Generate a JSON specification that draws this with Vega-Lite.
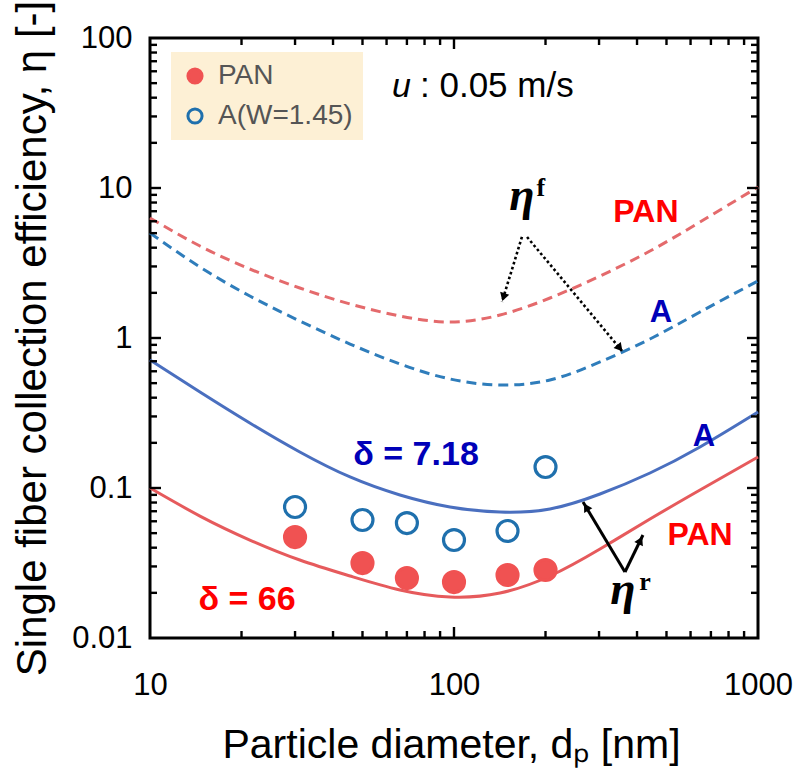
{
  "$schema": "https://vega.github.io/schema/vega-lite/v6.json",
  "width": 608,
  "height": 600,
  "autosize": "none",
  "padding": {"left": 150, "top": 38, "right": 42, "bottom": 135},
  "background": "white",
  "config": {
    "view": {"stroke": "black", "strokeWidth": 3},
    "axis": {"domain": false, "grid": false, "ticks": false, "labelFont": "Liberation Sans", "labelFontSize": 31, "labelColor": "black", "titleFont": "Liberation Sans", "titleFontWeight": "normal", "titleColor": "black"}
  },
  "datasets": {
    "curves": [
      {"d": 10, "eta": 6.31, "series": "PAN_f"},
      {"d": 14.6, "eta": 4.105, "series": "PAN_f"},
      {"d": 21.3, "eta": 2.884, "series": "PAN_f"},
      {"d": 31.1, "eta": 2.154, "series": "PAN_f"},
      {"d": 45.5, "eta": 1.685, "series": "PAN_f"},
      {"d": 66.4, "eta": 1.402, "series": "PAN_f"},
      {"d": 97, "eta": 1.278, "series": "PAN_f"},
      {"d": 141.7, "eta": 1.423, "series": "PAN_f"},
      {"d": 206.9, "eta": 1.848, "series": "PAN_f"},
      {"d": 302.2, "eta": 2.59, "series": "PAN_f"},
      {"d": 441.3, "eta": 3.80, "series": "PAN_f"},
      {"d": 644.5, "eta": 5.93, "series": "PAN_f"},
      {"d": 1000, "eta": 10.15, "series": "PAN_f"},
      {"d": 10, "eta": 5.01, "series": "A_f"},
      {"d": 14.6, "eta": 2.974, "series": "A_f"},
      {"d": 21.3, "eta": 1.905, "series": "A_f"},
      {"d": 31.1, "eta": 1.298, "series": "A_f"},
      {"d": 45.5, "eta": 0.912, "series": "A_f"},
      {"d": 66.4, "eta": 0.671, "series": "A_f"},
      {"d": 97, "eta": 0.533, "series": "A_f"},
      {"d": 141.7, "eta": 0.486, "series": "A_f"},
      {"d": 206.9, "eta": 0.525, "series": "A_f"},
      {"d": 302.2, "eta": 0.692, "series": "A_f"},
      {"d": 441.3, "eta": 0.985, "series": "A_f"},
      {"d": 644.5, "eta": 1.49, "series": "A_f"},
      {"d": 1000, "eta": 2.40, "series": "A_f"},
      {"d": 10, "eta": 0.1, "series": "PAN_r"},
      {"d": 14.6, "eta": 0.065, "series": "PAN_r"},
      {"d": 21.3, "eta": 0.045, "series": "PAN_r"},
      {"d": 31.1, "eta": 0.0331, "series": "PAN_r"},
      {"d": 45.5, "eta": 0.0259, "series": "PAN_r"},
      {"d": 66.4, "eta": 0.0209, "series": "PAN_r"},
      {"d": 97, "eta": 0.01877, "series": "PAN_r"},
      {"d": 141.7, "eta": 0.01995, "series": "PAN_r"},
      {"d": 206.9, "eta": 0.0259, "series": "PAN_r"},
      {"d": 302.2, "eta": 0.0392, "series": "PAN_r"},
      {"d": 441.3, "eta": 0.0621, "series": "PAN_r"},
      {"d": 644.5, "eta": 0.097, "series": "PAN_r"},
      {"d": 1000, "eta": 0.161, "series": "PAN_r"},
      {"d": 10, "eta": 0.713, "series": "A_r"},
      {"d": 14.6, "eta": 0.4365, "series": "A_r"},
      {"d": 21.3, "eta": 0.2712, "series": "A_r"},
      {"d": 31.1, "eta": 0.1738, "series": "A_r"},
      {"d": 45.5, "eta": 0.1184, "series": "A_r"},
      {"d": 66.4, "eta": 0.0898, "series": "A_r"},
      {"d": 97, "eta": 0.0747, "series": "A_r"},
      {"d": 141.7, "eta": 0.0692, "series": "A_r"},
      {"d": 206.9, "eta": 0.0725, "series": "A_r"},
      {"d": 302.2, "eta": 0.0912, "series": "A_r"},
      {"d": 441.3, "eta": 0.1259, "series": "A_r"},
      {"d": 644.5, "eta": 0.1877, "series": "A_r"},
      {"d": 1000, "eta": 0.321, "series": "A_r"}
    ],
    "points": [
      {"d": 30, "eta": 0.0471, "sample": "PAN"},
      {"d": 50, "eta": 0.0316, "sample": "PAN"},
      {"d": 70, "eta": 0.0251, "sample": "PAN"},
      {"d": 100, "eta": 0.0236, "sample": "PAN"},
      {"d": 150, "eta": 0.0263, "sample": "PAN"},
      {"d": 200, "eta": 0.0284, "sample": "PAN"},
      {"d": 30, "eta": 0.0747, "sample": "A(W=1.45)"},
      {"d": 50, "eta": 0.0612, "sample": "A(W=1.45)"},
      {"d": 70, "eta": 0.0584, "sample": "A(W=1.45)"},
      {"d": 100, "eta": 0.045, "sample": "A(W=1.45)"},
      {"d": 150, "eta": 0.0517, "sample": "A(W=1.45)"},
      {"d": 200, "eta": 0.138, "sample": "A(W=1.45)"}
    ],
    "arrows": [
      {"d1": 167.3, "e1": 4.714, "d2": 143.8, "e2": 1.738, "style": "dotted"},
      {"d1": 173.9, "e1": 4.714, "d2": 359.6, "e2": 0.8065, "style": "dotted"},
      {"d1": 365.1, "e1": 0.02754, "d2": 265.7, "e2": 0.0807, "style": "solid"},
      {"d1": 365.1, "e1": 0.02754, "d2": 418.4, "e2": 0.0486, "style": "solid"}
    ],
    "heads": [
      {"d": 145.5, "eta": 1.871, "ang": 197},
      {"d": 351.1, "eta": 0.855, "ang": 140},
      {"d": 272, "eta": 0.0746, "ang": 329},
      {"d": 410.4, "eta": 0.0447, "ang": 26}
    ],
    "xticks": [
      {"v": 100, "m": "major"},
      {"v": 20, "m": "minor"}, {"v": 30, "m": "minor"}, {"v": 40, "m": "minor"}, {"v": 50, "m": "minor"},
      {"v": 60, "m": "minor"}, {"v": 70, "m": "minor"}, {"v": 80, "m": "minor"}, {"v": 90, "m": "minor"},
      {"v": 200, "m": "minor"}, {"v": 300, "m": "minor"}, {"v": 400, "m": "minor"}, {"v": 500, "m": "minor"},
      {"v": 600, "m": "minor"}, {"v": 700, "m": "minor"}, {"v": 800, "m": "minor"}, {"v": 900, "m": "minor"}
    ],
    "yticks": [
      {"v": 0.1, "m": "major"}, {"v": 1, "m": "major"}, {"v": 10, "m": "major"},
      {"v": 0.02, "m": "minor"}, {"v": 0.03, "m": "minor"}, {"v": 0.04, "m": "minor"}, {"v": 0.05, "m": "minor"},
      {"v": 0.06, "m": "minor"}, {"v": 0.07, "m": "minor"}, {"v": 0.08, "m": "minor"}, {"v": 0.09, "m": "minor"},
      {"v": 0.2, "m": "minor"}, {"v": 0.3, "m": "minor"}, {"v": 0.4, "m": "minor"}, {"v": 0.5, "m": "minor"},
      {"v": 0.6, "m": "minor"}, {"v": 0.7, "m": "minor"}, {"v": 0.8, "m": "minor"}, {"v": 0.9, "m": "minor"},
      {"v": 2, "m": "minor"}, {"v": 3, "m": "minor"}, {"v": 4, "m": "minor"}, {"v": 5, "m": "minor"},
      {"v": 6, "m": "minor"}, {"v": 7, "m": "minor"}, {"v": 8, "m": "minor"}, {"v": 9, "m": "minor"},
      {"v": 20, "m": "minor"}, {"v": 30, "m": "minor"}, {"v": 40, "m": "minor"}, {"v": 50, "m": "minor"},
      {"v": 60, "m": "minor"}, {"v": 70, "m": "minor"}, {"v": 80, "m": "minor"}, {"v": 90, "m": "minor"}
    ],
    "notes": [
      {"d": 167.3, "eta": 7.135, "text": "η", "kind": "eta"},
      {"d": 193.2, "eta": 8.844, "text": "f", "kind": "sup"},
      {"d": 359.6, "eta": 0.01685, "text": "η", "kind": "eta"},
      {"d": 425, "eta": 0.0209, "text": "r", "kind": "sup"},
      {"d": 428, "eta": 5.935, "text": "PAN", "kind": "red"},
      {"d": 644.6, "eta": 0.0417, "text": "PAN", "kind": "red"},
      {"d": 479.8, "eta": 1.278, "text": "A", "kind": "blue"},
      {"d": 664.3, "eta": 0.1905, "text": "A", "kind": "blue"},
      {"d": 75, "eta": 0.1423, "text": "δ = 7.18", "kind": "blueDelta"},
      {"d": 20.85, "eta": 0.01537, "text": "δ = 66", "kind": "redDelta"},
      {"d": 62.5, "eta": 40.4, "text": "u", "kind": "u"},
      {"d": 77.3, "eta": 40.4, "text": ": 0.05 m/s", "kind": "uval"}
    ]
  },
  "resolve": {"axis": {"x": "independent", "y": "independent"}},
  "layer": [
    {
      "data": {"name": "curves"},
      "transform": [{"filter": "datum.series == 'PAN_f' || datum.series == 'A_f'"}],
      "mark": {"type": "line", "strokeWidth": 3, "interpolate": "natural", "strokeDash": [10, 6]},
      "encoding": {
        "x": {"field": "d", "type": "quantitative", "scale": {"type": "log", "domain": [10, 1000], "nice": false},
          "axis": {"orient": "bottom", "values": [10, 100, 1000], "format": "~g",
            "labelPadding": 32, "labelOverlap": false, "labelFlush": false, "labelBound": false,
            "title": "Particle diameter, dₚ [nm]", "titleFontSize": 41, "titleX": 301, "titleY": 119, "titleBaseline": "alphabetic", "titleAlign": "center"}},
        "y": {"field": "eta", "type": "quantitative", "scale": {"type": "log", "domain": [0.01, 100], "nice": false},
          "axis": {"orient": "left", "values": [0.01, 0.1, 1, 10, 100], "format": "~g",
            "labelPadding": 18, "labelOverlap": false, "labelFlush": false, "labelBound": false,
            "title": "Single fiber collection efficiency, η [-]", "titleFontSize": 42, "titleX": -105, "titleY": 300, "titleAngle": 270, "titleBaseline": "alphabetic", "titleAlign": "center"}},
        "color": {"field": "series", "type": "nominal", "scale": {"domain": ["PAN_f", "A_f", "PAN_r", "A_r"], "range": ["#e46a6c", "#2f7dbb", "#e65a5c", "#4a6fbf"]}, "legend": null}
      }
    },
    {
      "data": {"name": "curves"},
      "transform": [{"filter": "datum.series == 'PAN_r' || datum.series == 'A_r'"}],
      "mark": {"type": "line", "strokeWidth": 3, "interpolate": "natural"},
      "encoding": {
        "x": {"field": "d", "type": "quantitative", "scale": {"type": "log", "domain": [10, 1000], "nice": false}, "axis": null},
        "y": {"field": "eta", "type": "quantitative", "scale": {"type": "log", "domain": [0.01, 100], "nice": false}, "axis": null},
        "color": {"field": "series", "type": "nominal", "scale": {"domain": ["PAN_f", "A_f", "PAN_r", "A_r"], "range": ["#e46a6c", "#2f7dbb", "#e65a5c", "#4a6fbf"]}, "legend": null}
      }
    },
    {
      "data": {"name": "xticks"},
      "transform": [{"filter": "datum.m == 'major'"}],
      "mark": {"type": "tick", "orient": "vertical", "size": 11, "thickness": 2.4, "color": "black", "opacity": 1, "yOffset": 294.5},
      "encoding": {
        "x": {"field": "v", "type": "quantitative", "scale": {"type": "log", "domain": [10, 1000], "nice": false}, "axis": null}
      }
    },
    {
      "data": {"name": "xticks"},
      "transform": [{"filter": "datum.m == 'minor'"}],
      "mark": {"type": "tick", "orient": "vertical", "size": 7, "thickness": 2.4, "color": "black", "opacity": 1, "yOffset": 296.5},
      "encoding": {
        "x": {"field": "v", "type": "quantitative", "scale": {"type": "log", "domain": [10, 1000], "nice": false}, "axis": null}
      }
    },
    {
      "data": {"name": "xticks"},
      "transform": [{"filter": "datum.m == 'major'"}],
      "mark": {"type": "tick", "orient": "vertical", "size": 11, "thickness": 2.4, "color": "black", "opacity": 1, "yOffset": -294.5},
      "encoding": {
        "x": {"field": "v", "type": "quantitative", "scale": {"type": "log", "domain": [10, 1000], "nice": false}, "axis": null}
      }
    },
    {
      "data": {"name": "xticks"},
      "transform": [{"filter": "datum.m == 'minor'"}],
      "mark": {"type": "tick", "orient": "vertical", "size": 7, "thickness": 2.4, "color": "black", "opacity": 1, "yOffset": -296.5},
      "encoding": {
        "x": {"field": "v", "type": "quantitative", "scale": {"type": "log", "domain": [10, 1000], "nice": false}, "axis": null}
      }
    },
    {
      "data": {"name": "yticks"},
      "transform": [{"filter": "datum.m == 'major'"}],
      "mark": {"type": "tick", "orient": "horizontal", "size": 11, "thickness": 2.4, "color": "black", "opacity": 1, "xOffset": -298.5},
      "encoding": {
        "y": {"field": "v", "type": "quantitative", "scale": {"type": "log", "domain": [0.01, 100], "nice": false}, "axis": null}
      }
    },
    {
      "data": {"name": "yticks"},
      "transform": [{"filter": "datum.m == 'minor'"}],
      "mark": {"type": "tick", "orient": "horizontal", "size": 7, "thickness": 2.4, "color": "black", "opacity": 1, "xOffset": -300.5},
      "encoding": {
        "y": {"field": "v", "type": "quantitative", "scale": {"type": "log", "domain": [0.01, 100], "nice": false}, "axis": null}
      }
    },
    {
      "data": {"name": "yticks"},
      "transform": [{"filter": "datum.m == 'major'"}],
      "mark": {"type": "tick", "orient": "horizontal", "size": 11, "thickness": 2.4, "color": "black", "opacity": 1, "xOffset": 298.5},
      "encoding": {
        "y": {"field": "v", "type": "quantitative", "scale": {"type": "log", "domain": [0.01, 100], "nice": false}, "axis": null}
      }
    },
    {
      "data": {"name": "yticks"},
      "transform": [{"filter": "datum.m == 'minor'"}],
      "mark": {"type": "tick", "orient": "horizontal", "size": 7, "thickness": 2.4, "color": "black", "opacity": 1, "xOffset": 300.5},
      "encoding": {
        "y": {"field": "v", "type": "quantitative", "scale": {"type": "log", "domain": [0.01, 100], "nice": false}, "axis": null}
      }
    },
    {
      "data": {"name": "points"},
      "mark": {"type": "point", "shape": "circle", "filled": true, "strokeWidth": 3.2, "opacity": 1, "size": 440},
      "encoding": {
        "x": {"field": "d", "type": "quantitative", "scale": {"type": "log", "domain": [10, 1000], "nice": false}, "axis": null},
        "y": {"field": "eta", "type": "quantitative", "scale": {"type": "log", "domain": [0.01, 100], "nice": false}, "axis": null},
        "fill": {"field": "sample", "type": "nominal", "scale": {"domain": ["PAN", "A(W=1.45)"], "range": ["#f05252", "transparent"]},
          "legend": {"orient": "none", "legendX": 21, "legendY": 14, "title": null, "fillColor": "#fdf0d5", "padding": 10, "labelFont": "Liberation Sans", "labelFontSize": 28, "labelColor": "#555555", "symbolSize": 200, "symbolStrokeWidth": 3, "rowPadding": 12, "labelOffset": 9}},
        "stroke": {"field": "sample", "type": "nominal", "scale": {"domain": ["PAN", "A(W=1.45)"], "range": ["#f05252", "#1f70ad"]},
          "legend": {"orient": "none", "legendX": 21, "legendY": 14, "title": null, "fillColor": "#fdf0d5", "padding": 10, "labelFont": "Liberation Sans", "labelFontSize": 28, "labelColor": "#555555", "symbolSize": 200, "symbolStrokeWidth": 3, "rowPadding": 12, "labelOffset": 9}}
      }
    },
    {
      "data": {"name": "arrows"},
      "transform": [{"filter": "datum.style == 'dotted'"}],
      "mark": {"type": "rule", "color": "black", "strokeWidth": 2.6, "strokeDash": [2.6, 2.6]},
      "encoding": {
        "x": {"field": "d1", "type": "quantitative", "scale": {"type": "log", "domain": [10, 1000], "nice": false}, "axis": null},
        "y": {"field": "e1", "type": "quantitative", "scale": {"type": "log", "domain": [0.01, 100], "nice": false}, "axis": null},
        "x2": {"field": "d2"},
        "y2": {"field": "e2"}
      }
    },
    {
      "data": {"name": "arrows"},
      "transform": [{"filter": "datum.style == 'solid'"}],
      "mark": {"type": "rule", "color": "black", "strokeWidth": 3},
      "encoding": {
        "x": {"field": "d1", "type": "quantitative", "scale": {"type": "log", "domain": [10, 1000], "nice": false}, "axis": null},
        "y": {"field": "e1", "type": "quantitative", "scale": {"type": "log", "domain": [0.01, 100], "nice": false}, "axis": null},
        "x2": {"field": "d2"},
        "y2": {"field": "e2"}
      }
    },
    {
      "data": {"name": "heads"},
      "mark": {"type": "point", "shape": "triangle-up", "filled": true, "color": "black", "opacity": 1, "size": 90},
      "encoding": {
        "x": {"field": "d", "type": "quantitative", "scale": {"type": "log", "domain": [10, 1000], "nice": false}, "axis": null},
        "y": {"field": "eta", "type": "quantitative", "scale": {"type": "log", "domain": [0.01, 100], "nice": false}, "axis": null},
        "angle": {"field": "ang", "type": "quantitative", "scale": null}
      }
    },
    {
      "data": {"name": "notes"},
      "transform": [{"filter": "datum.kind == 'eta'"}],
      "mark": {"type": "text", "font": "Liberation Serif", "fontSize": 46, "fontWeight": "bold", "fontStyle": "italic", "color": "black", "align": "center", "baseline": "alphabetic"},
      "encoding": {
        "x": {"field": "d", "type": "quantitative", "scale": {"type": "log", "domain": [10, 1000], "nice": false}, "axis": null},
        "y": {"field": "eta", "type": "quantitative", "scale": {"type": "log", "domain": [0.01, 100], "nice": false}, "axis": null},
        "text": {"field": "text"}
      }
    },
    {
      "data": {"name": "notes"},
      "transform": [{"filter": "datum.kind == 'sup'"}],
      "mark": {"type": "text", "font": "Liberation Serif", "fontSize": 26, "fontWeight": "bold", "color": "black", "align": "center", "baseline": "alphabetic"},
      "encoding": {
        "x": {"field": "d", "type": "quantitative", "scale": {"type": "log", "domain": [10, 1000], "nice": false}, "axis": null},
        "y": {"field": "eta", "type": "quantitative", "scale": {"type": "log", "domain": [0.01, 100], "nice": false}, "axis": null},
        "text": {"field": "text"}
      }
    },
    {
      "data": {"name": "notes"},
      "transform": [{"filter": "datum.kind == 'red'"}],
      "mark": {"type": "text", "font": "Liberation Sans", "fontSize": 32, "fontWeight": "bold", "color": "#ff0000", "align": "center", "baseline": "alphabetic"},
      "encoding": {
        "x": {"field": "d", "type": "quantitative", "scale": {"type": "log", "domain": [10, 1000], "nice": false}, "axis": null},
        "y": {"field": "eta", "type": "quantitative", "scale": {"type": "log", "domain": [0.01, 100], "nice": false}, "axis": null},
        "text": {"field": "text"}
      }
    },
    {
      "data": {"name": "notes"},
      "transform": [{"filter": "datum.kind == 'blue'"}],
      "mark": {"type": "text", "font": "Liberation Sans", "fontSize": 31, "fontWeight": "bold", "color": "#0000b8", "align": "center", "baseline": "alphabetic"},
      "encoding": {
        "x": {"field": "d", "type": "quantitative", "scale": {"type": "log", "domain": [10, 1000], "nice": false}, "axis": null},
        "y": {"field": "eta", "type": "quantitative", "scale": {"type": "log", "domain": [0.01, 100], "nice": false}, "axis": null},
        "text": {"field": "text"}
      }
    },
    {
      "data": {"name": "notes"},
      "transform": [{"filter": "datum.kind == 'redDelta'"}],
      "mark": {"type": "text", "font": "Liberation Sans", "fontSize": 34, "fontWeight": "bold", "color": "#ff0000", "align": "center", "baseline": "alphabetic"},
      "encoding": {
        "x": {"field": "d", "type": "quantitative", "scale": {"type": "log", "domain": [10, 1000], "nice": false}, "axis": null},
        "y": {"field": "eta", "type": "quantitative", "scale": {"type": "log", "domain": [0.01, 100], "nice": false}, "axis": null},
        "text": {"field": "text"}
      }
    },
    {
      "data": {"name": "notes"},
      "transform": [{"filter": "datum.kind == 'blueDelta'"}],
      "mark": {"type": "text", "font": "Liberation Sans", "fontSize": 34, "fontWeight": "bold", "color": "#0000b8", "align": "center", "baseline": "alphabetic"},
      "encoding": {
        "x": {"field": "d", "type": "quantitative", "scale": {"type": "log", "domain": [10, 1000], "nice": false}, "axis": null},
        "y": {"field": "eta", "type": "quantitative", "scale": {"type": "log", "domain": [0.01, 100], "nice": false}, "axis": null},
        "text": {"field": "text"}
      }
    },
    {
      "data": {"name": "notes"},
      "transform": [{"filter": "datum.kind == 'u'"}],
      "mark": {"type": "text", "font": "Liberation Sans", "fontSize": 34, "fontStyle": "italic", "color": "black", "align": "left", "baseline": "alphabetic"},
      "encoding": {
        "x": {"field": "d", "type": "quantitative", "scale": {"type": "log", "domain": [10, 1000], "nice": false}, "axis": null},
        "y": {"field": "eta", "type": "quantitative", "scale": {"type": "log", "domain": [0.01, 100], "nice": false}, "axis": null},
        "text": {"field": "text"}
      }
    },
    {
      "data": {"name": "notes"},
      "transform": [{"filter": "datum.kind == 'uval'"}],
      "mark": {"type": "text", "font": "Liberation Sans", "fontSize": 35, "color": "black", "align": "left", "baseline": "alphabetic"},
      "encoding": {
        "x": {"field": "d", "type": "quantitative", "scale": {"type": "log", "domain": [10, 1000], "nice": false}, "axis": null},
        "y": {"field": "eta", "type": "quantitative", "scale": {"type": "log", "domain": [0.01, 100], "nice": false}, "axis": null},
        "text": {"field": "text"}
      }
    }
  ]
}
